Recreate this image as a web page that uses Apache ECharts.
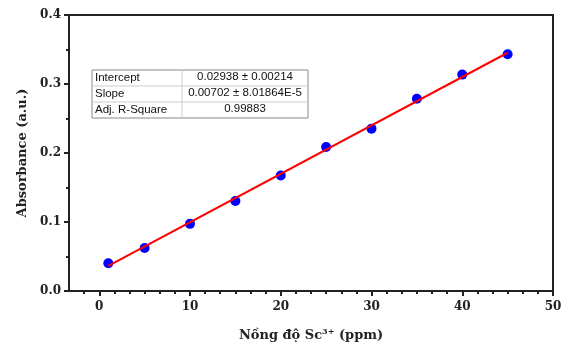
<!DOCTYPE html>
<html>
<head>
<meta charset="utf-8">
<script src="https://cdn.jsdelivr.net/npm/echarts@6/dist/echarts.min.js"></script>
<style>
  html, body { margin: 0; padding: 0; background: #fff; }
  #chart { width: 565px; height: 347px; }
</style>
</head>
<body>
<div id="chart"></div>
<script>
// nong do Sc3+ (ppm) va do hap thu
var concX = [1, 5, 10, 15, 20, 25, 30, 35, 40, 45];
var absY = [0.0403, 0.0622, 0.0973, 0.1305, 0.1675, 0.2088, 0.2353, 0.2786, 0.3136, 0.3431];
// duong hoi quy (hai dau mut)
var fitX = [1, 45];
var fitY = [0.0364, 0.3453];
var xMajor = [0, 10, 20, 30, 40, 50];
var xMinor = [-1.667, 1.667, 3.333, 5, 6.667, 8.333, 11.667, 13.333, 15, 16.667, 18.333,
  21.667, 23.333, 25, 26.667, 28.333, 31.667, 33.333, 35, 36.667, 38.333,
  41.667, 43.333, 45, 46.667, 48.333];
var tableRows = [
  ['Intercept', '0.02938 \u00b1 0.00214'],
  ['Slope', '0.00702 \u00b1 8.01864E-5'],
  ['Adj. R-Square', '0.99883']
];

var pts = concX.map(function (x, i) { return [x, absY[i]]; });
var fit = fitX.map(function (x, i) { return [x, fitY[i]]; });

var axisFont = { fontFamily: 'DejaVu Serif', fontWeight: 'bold', color: '#222', fontSize: 12 };
var dark = '#222';

// bang ket qua
var tbl = [];
var tx = 92, ty = 70, w1 = 90, w2 = 126, rh = 16;
var tfont = '11.5px "Liberation Sans", Arial';
tbl.push({ type: 'rect', shape: { x: tx, y: ty, width: w1 + w2, height: rh * 3 },
  style: { fill: '#fff', stroke: '#888', lineWidth: 1 } });
for (var r = 1; r < 3; r++) {
  tbl.push({ type: 'line', shape: { x1: tx, y1: ty + rh * r, x2: tx + w1 + w2, y2: ty + rh * r },
    style: { stroke: '#ccc', lineWidth: 1 } });
}
tbl.push({ type: 'line', shape: { x1: tx + w1, y1: ty, x2: tx + w1, y2: ty + rh * 3 },
  style: { stroke: '#ccc', lineWidth: 1 } });
tableRows.forEach(function (row, i) {
  tbl.push({ type: 'text', x: tx + 3, y: ty + rh * i + rh / 2,
    style: { text: row[0], fill: '#111', font: tfont, verticalAlign: 'middle' } });
  tbl.push({ type: 'text', x: tx + w1 + w2 / 2, y: ty + rh * i + rh / 2 - 1,
    style: { text: row[1], fill: '#111', font: tfont, align: 'center', verticalAlign: 'middle' } });
});

var chart = echarts.init(document.getElementById('chart'));
chart.setOption({
  animation: false,
  grid: { left: 69, right: 12, top: 15, bottom: 51, show: true, borderColor: dark, borderWidth: 2, backgroundColor: 'transparent' },
  xAxis: [{
    type: 'value', min: -10 / 3, max: 50,
    name: 'N\u1ed3ng \u0111\u1ed9 Sc{sup|3+} (ppm)', nameLocation: 'middle', nameGap: 37,
    nameTextStyle: { fontFamily: 'DejaVu Serif', fontWeight: 'bold', fontSize: 13, color: dark,
      rich: { sup: { fontFamily: 'DejaVu Serif', fontWeight: 'bold', fontSize: 8, color: dark, padding: [0, 0, 7, 0] } } },
    axisLine: { onZero: false, lineStyle: { color: dark, width: 2 } },
    axisTick: { show: true, length: 5, lineStyle: { color: dark, width: 2 }, customValues: xMajor },
    axisLabel: Object.assign({ customValues: xMajor, margin: 10 }, axisFont),
    splitLine: { show: false }
  }, {
    type: 'value', min: -10 / 3, max: 50, position: 'bottom',
    axisLine: { show: false },
    axisTick: { show: true, length: 3, lineStyle: { color: dark, width: 2 }, customValues: xMinor },
    axisLabel: { show: false },
    splitLine: { show: false }
  }],
  yAxis: {
    type: 'value', min: 0, max: 0.4, interval: 0.1,
    name: 'Absorbance (a.u.)', nameLocation: 'middle', nameGap: 40,
    nameTextStyle: { fontFamily: 'DejaVu Serif', fontWeight: 'bold', fontSize: 13, color: dark },
    axisLine: { show: true, onZero: false, lineStyle: { color: dark, width: 2 } },
    axisTick: { show: true, length: 5, lineStyle: { color: dark, width: 2 } },
    minorTick: { show: true, splitNumber: 2, length: 3, lineStyle: { color: dark, width: 2 } },
    axisLabel: Object.assign({ margin: 8, formatter: function (v) { return v.toFixed(1); } }, axisFont),
    splitLine: { show: false }
  },
  series: [{
    type: 'line', data: fit, symbol: 'none', z: 3,
    lineStyle: { color: '#ff0000', width: 2 }
  }, {
    type: 'scatter', data: pts, symbolSize: 10, z: 2,
    itemStyle: { color: '#0000ff', opacity: 1 }
  }],
  graphic: tbl
});
</script>
</body>
</html>
